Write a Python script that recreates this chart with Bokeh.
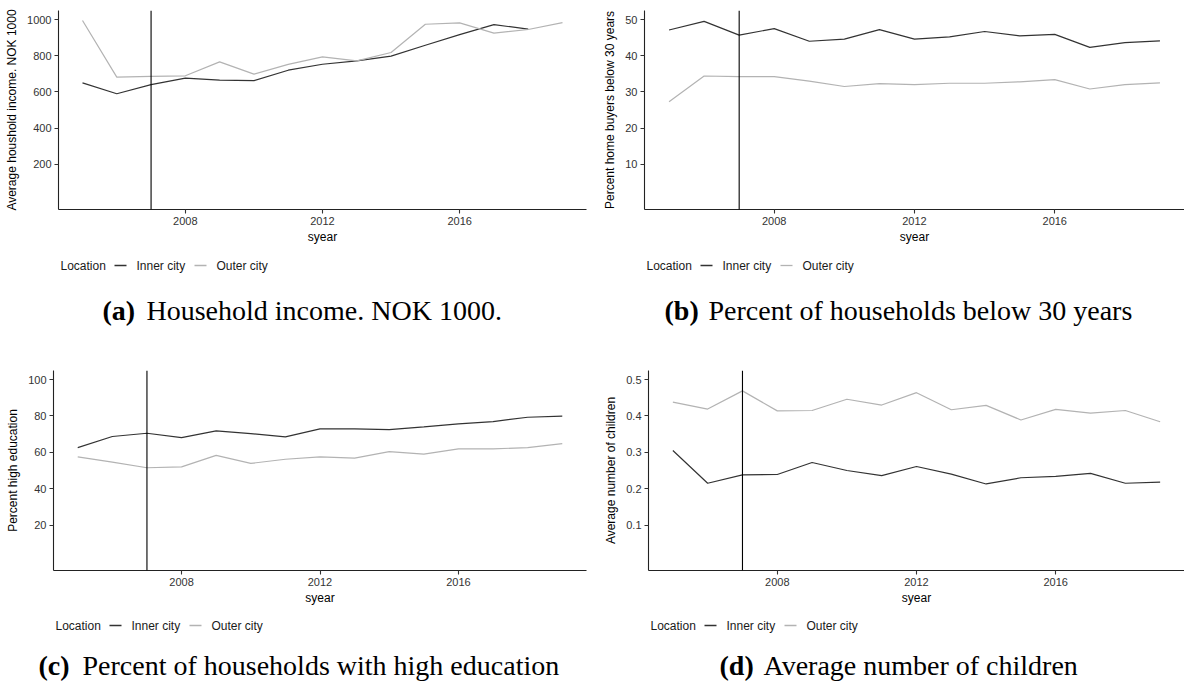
import math
from bokeh.plotting import figure
from bokeh.layouts import column, row
from bokeh.models import Range1d, FixedTicker, Span, Label
from bokeh.embed import file_html
from bokeh.resources import INLINE

nan = float("nan")

# ---------------- data ----------------
years = [2005, 2006, 2007, 2008, 2009, 2010, 2011, 2012, 2013, 2014, 2015, 2016, 2017, 2018, 2019]
x_ticks = [2008, 2012, 2016]
reform_year = [2007]
locations = ["Inner city", "Outer city"]

income_inner = [650, 590, 640, 676, 665, 662, 720, 753, 772, 798, 858, 917, 972, 947, nan]
income_outer = [995, 682, 686, 689, 766, 698, 752, 794, 772, 818, 974, 982, 925, 945, 983]

young_inner = [47.1, 49.5, 45.7, 47.5, 44.0, 44.6, 47.2, 44.6, 45.2, 46.7, 45.5, 45.9, 42.3, 43.6, 44.1]
young_outer = [27.3, 34.4, 34.2, 34.2, 33.0, 31.5, 32.3, 32.0, 32.4, 32.4, 32.8, 33.4, 30.8, 32.0, 32.5]

educ_inner = [62.6, 68.7, 70.5, 68.1, 71.8, 70.3, 68.5, 72.9, 72.9, 72.5, 74.0, 75.6, 76.9, 79.3, 79.9]
educ_outer = [57.5, 54.6, 51.5, 52.0, 58.3, 53.9, 56.2, 57.5, 56.8, 60.4, 59.0, 61.9, 61.9, 62.6, 64.8]

kids_inner = [0.305, 0.215, 0.238, 0.239, 0.272, 0.250, 0.236, 0.261, 0.240, 0.213, 0.230, 0.234, 0.242, 0.215, 0.218]
kids_outer = [0.438, 0.419, 0.469, 0.414, 0.415, 0.446, 0.430, 0.464, 0.417, 0.429, 0.389, 0.418, 0.408, 0.415, 0.384]

income_ticks = [200, 400, 600, 800, 1000]
young_ticks = [10, 20, 30, 40, 50]
educ_ticks = [20, 40, 60, 80, 100]
kids_ticks = [0.1, 0.2, 0.3, 0.4, 0.5]

y_titles = ["Average houshold income. NOK 1000",
            "Percent home buyers below 30 years",
            "Percent high education",
            "Average number of children"]
tags = ["(a)", "(b)", "(c)", "(d)"]
captions = ["Household income. NOK 1000.",
            "Percent of households below 30 years",
            "Percent of households with high education",
            "Average number of children"]

# ---------------- style ----------------
INNER_COL = "#333333"
OUTER_COL = "#b3b3b3"
SANS = "Liberation Sans"
SERIF = "Liberation Serif"


def expand(lo, hi, frac=0.05):
    d = (hi - lo) * frac
    return lo - d, hi + d


def main_fig(w, h, bl, br, bt, bb, ylim, yticks, ytitle, inner, outer):
    xlo, xhi = expand(min(years), max(years))
    ylo, yhi = expand(*ylim)
    p = figure(width=w, height=h, output_backend="svg", toolbar_location=None,
               x_range=Range1d(xlo, xhi), y_range=Range1d(ylo, yhi),
               min_border_left=bl, min_border_right=br,
               min_border_top=bt, min_border_bottom=bb, frame_align=False)
    p.xgrid.visible = False
    p.ygrid.visible = False
    p.outline_line_color = None
    p.background_fill_color = "white"
    p.border_fill_color = "white"

    p.xaxis.ticker = FixedTicker(ticks=x_ticks)
    p.yaxis.ticker = FixedTicker(ticks=yticks)
    p.xaxis.axis_label = "syear"
    p.yaxis.axis_label = ytitle
    for ax in (p.xaxis, p.yaxis):
        ax.axis_line_color = "#222222"
        ax.axis_line_width = 1.1
        ax.major_tick_line_color = "#333333"
        ax.major_tick_line_width = 1.1
        ax.major_tick_out = 4
        ax.major_tick_in = 0
        ax.minor_tick_line_color = None
        ax.major_label_text_font = SANS
        ax.major_label_text_font_size = "11px"
        ax.major_label_text_color = "#333333"
        ax.major_label_standoff = 3
        ax.axis_label_text_font = SANS
        ax.axis_label_text_font_size = "12px"
        ax.axis_label_text_font_style = "normal"
        ax.axis_label_text_color = "black"
    p.xaxis.axis_label_standoff = 2
    p.yaxis.axis_label_standoff = 5

    p.line(years, inner, line_color=INNER_COL, line_width=1.2)
    p.line(years, outer, line_color=OUTER_COL, line_width=1.2)
    for yr in reform_year:
        p.add_layout(Span(location=yr, dimension="height", line_color="black", line_width=1.1))
    return p


def caption_fig(w, h, left, leg_y, cap_x, cap_y, tag, cap):
    c = figure(width=w, height=h, output_backend="svg", toolbar_location=None,
               x_range=Range1d(0, w), y_range=Range1d(h, 0), min_border=0,
               x_axis_location=None, y_axis_location=None, frame_align=False)
    c.xgrid.visible = False
    c.ygrid.visible = False
    c.outline_line_color = None
    c.background_fill_color = "white"
    c.border_fill_color = "white"
    # legend: title, key lines, labels
    c.add_layout(Label(x=left, y=leg_y, text="Location", text_baseline="middle",
                       text_font=SANS, text_font_size="12px", text_color="#1a1a1a"))
    c.segment(x0=[left + 54, left + 134], y0=[leg_y, leg_y],
              x1=[left + 66, left + 146], y1=[leg_y, leg_y],
              line_color=[INNER_COL, OUTER_COL], line_width=1.3)
    c.add_layout(Label(x=left + 76, y=leg_y, text=locations[0], text_baseline="middle",
                       text_font=SANS, text_font_size="12px", text_color="#1a1a1a"))
    c.add_layout(Label(x=left + 156, y=leg_y, text=locations[1], text_baseline="middle",
                       text_font=SANS, text_font_size="12px", text_color="#1a1a1a"))
    # caption
    c.add_layout(Label(x=cap_x, y=cap_y, text=tag, text_baseline="middle",
                       text_font=SERIF, text_font_style="bold",
                       text_font_size="28px", text_color="black"))
    c.add_layout(Label(x=cap_x + 44, y=cap_y, text=cap, text_baseline="middle",
                       text_font=SERIF, text_font_size="28px", text_color="black"))
    return c


pa = main_fig(590, 250, 58, 4, 10, 41, (0, 1000), income_ticks, y_titles[0], income_inner, income_outer)
pb = main_fig(594, 250, 54, 0, 10, 41, (0, 50), young_ticks, y_titles[1], young_inner, young_outer)
pc = main_fig(590, 270, 53, 4, 25, 45, (0, 100), educ_ticks, y_titles[2], educ_inner, educ_outer)
pd = main_fig(594, 270, 58, 0, 25, 45, (0, 0.5), kids_ticks, y_titles[3], kids_inner, kids_outer)

ca = caption_fig(590, 95, 60, 15, 102, 60, tags[0], captions[0])
cb = caption_fig(594, 95, 56, 15, 74, 60, tags[1], captions[1])
cc = caption_fig(590, 70, 55, 10, 38, 50, tags[2], captions[2])
cd = caption_fig(594, 70, 60, 10, 129, 50, tags[3], captions[3])

layout = column(row(column(pa, ca), column(pb, cb)), row(column(pc, cc), column(pd, cd)))
open("out.html", "w").write(file_html(layout, INLINE))
